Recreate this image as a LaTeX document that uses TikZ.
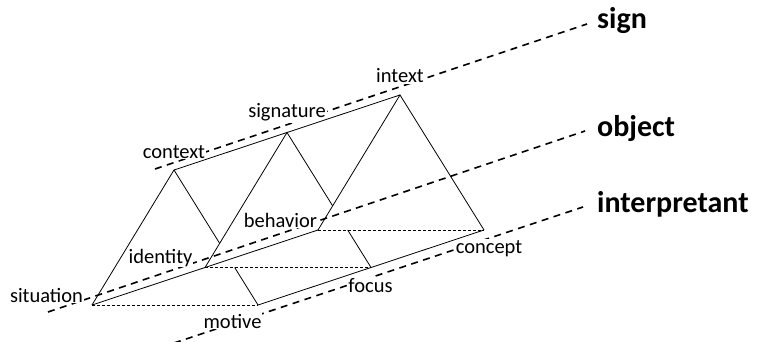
\documentclass[tikz,border=0pt]{standalone}
\usepackage{fontspec}
\setmainfont{Carlito}
\begin{document}
\begin{tikzpicture}[x=1pt,y=-1pt,
  plane/.style={line width=1.6pt,dash pattern=on 7pt off 5.5pt},
  edge/.style={line width=0.8pt},
  base/.style={line width=0.7pt,dash pattern=on 3pt off 2pt},
  lbl/.style={fill=white,inner sep=1pt,anchor=base,font=\fontsize{20.5}{22}\selectfont},
  big/.style={inner sep=0pt,anchor=base west,font=\fontsize{30}{32}\selectfont\bfseries}]
\useasboundingbox (0,0) rectangle (760,342);
% plane lines
\node[big] (sign) at (597,28.5) {sign};
\node[big] (object) at (597,137) {object};
\node[big] (interp) at (597,212) {interpretant};
\coordinate (s0) at (155,169);
\coordinate (s1) at (587,24);
\coordinate (o0) at (48,312);
\coordinate (o1) at (585,131);
\coordinate (p0) at (174,343);
\coordinate (p1) at (583,207);
\draw[plane] (s0) -- (s1);
\draw[plane] (o0) -- (o1);
\draw[plane] (p0) -- (p1);
% labels
\node[lbl] (lsit) at (46.5,302) {situation};
\node[lbl] (lid) at (160.5,263) {identity};
\node[lbl] (lmot) at (232.5,328) {motive};
\node[lbl] (lfoc) at (370.5,292) {focus};
\node[lbl] (lcon) at (489,253) {concept};
\node[lbl] (lbeh) at (280.5,227) {behavior};
\node[lbl] (lctx) at (174,158) {context};
\node[lbl] (lsig) at (287,118) {signature};
\node[lbl] (lint) at (400,83) {intext};
% structure
\coordinate (S) at (92,305);
\coordinate (C) at (174,170);
\coordinate (M) at (258,305);
\coordinate (I) at (205,267.5);
\coordinate (G) at (287,132.5);
\coordinate (F) at (371,267.5);
\coordinate (B) at (318,230);
\coordinate (T) at (400,95);
\coordinate (K) at (484,230);
\draw[edge] (C) -- (G) -- (T);
\draw[edge] (S) -- (I) -- (B);
\draw[edge] (M) -- (F) -- (K);
\draw[base] (S) -- (M);
\draw[base] (I) -- (F);
\draw[base] (B) -- (K);
\draw[edge] (S) -- (C);
\draw[edge] (I) -- (G);
\draw[edge] (B) -- (T) -- (K);
\draw[edge] (C) -- (intersection of C--M and I--G);
\draw[edge] (intersection of C--M and I--F) -- (M);
\draw[edge] (G) -- (intersection of G--F and B--T);
\draw[edge] (intersection of G--F and B--K) -- (F);
\end{tikzpicture}
\end{document}
